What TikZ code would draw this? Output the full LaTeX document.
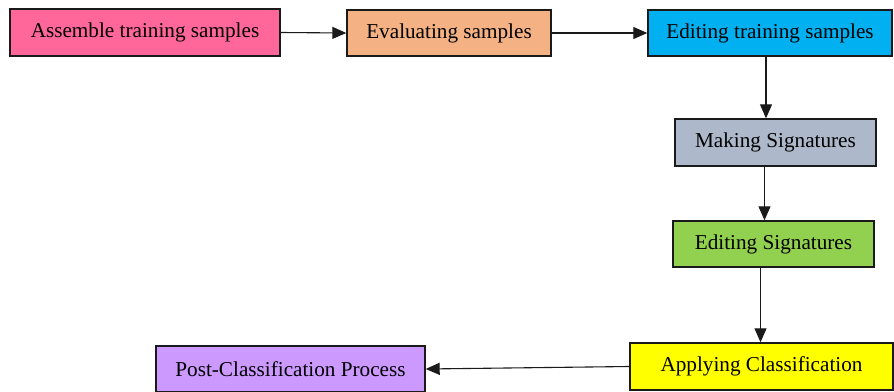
\documentclass[tikz,border=0pt]{standalone}
\usepackage{fontspec}
\setmainfont{Liberation Serif}
\usepackage{xcolor}
\usetikzlibrary{arrows.meta,positioning,calc}
\definecolor{ink}{HTML}{1A1A1A}
\definecolor{pinkbg}{HTML}{FF6699}
\definecolor{orangebg}{HTML}{F4B183}
\definecolor{cyanbg}{HTML}{00B0F0}
\definecolor{slatebg}{HTML}{ADB9CA}
\definecolor{greenbg}{HTML}{92D050}
\definecolor{yellowbg}{HTML}{FFFF00}
\definecolor{lilacbg}{HTML}{CC99FF}
\tikzset{
  stepbox/.style={draw=ink,line width=0.7pt,align=center,inner sep=2pt,
                  font=\fontsize{10.6}{12}\selectfont},
  flowarr/.style={-{Triangle[length=7pt,width=6pt]},line width=0.55pt,
                  draw=ink}
}

\begin{document}
\begin{tikzpicture}[x=0.5pt,y=-0.5pt]
    \path[use as bounding box] (0,0) rectangle (894,391);

    \node[stepbox,fill=pinkbg,minimum width=135pt,minimum height=23.5pt]
      (assemble) at (145,32.5) {Assemble training samples};
    \node[stepbox,fill=orangebg,minimum width=102pt,minimum height=23pt]
      (evaluate) at (449,33) {Evaluating samples};
    \node[stepbox,fill=cyanbg,minimum width=122pt,minimum height=23pt]
      (edittrain) at (770,33) {Editing training samples};
    \node[stepbox,fill=slatebg,minimum width=100.5pt,minimum height=23.5pt]
      (making) at (775.5,142.5) {Making Signatures};
    \node[stepbox,fill=greenbg,minimum width=100.5pt,minimum height=23pt]
      (editsig) at (773.5,244) {Editing Signatures};
    \node[stepbox,fill=yellowbg,minimum width=131.5pt,minimum height=23.5pt]
      (apply) at (761.5,366.5) {Applying Classification};
    \node[stepbox,fill=lilacbg,minimum width=134.5pt,minimum height=23pt]
      (post) at (290.5,369) {Post-Classification Process};

    % where the down arrows leave their boxes
    \coordinate (tr-out) at ($(edittrain.south)+(-4,0)$);
    \coordinate (mk-out) at ($(making.south)+(-11,0)$);
    \coordinate (es-out) at ($(editsig.south)+(-13,0)$);

    \draw[flowarr] (assemble.east) -- (evaluate.west);
    \draw[flowarr] (evaluate.east) -- (edittrain.west);
    \draw[flowarr] (tr-out) -- (tr-out |- making.north);
    \draw[flowarr] (mk-out) -- (mk-out |- editsig.north);
    \draw[flowarr] (es-out) -- (es-out |- apply.north);
    \draw[flowarr] (apply.west) -- (post.east);
  \end{tikzpicture}
\end{document}
